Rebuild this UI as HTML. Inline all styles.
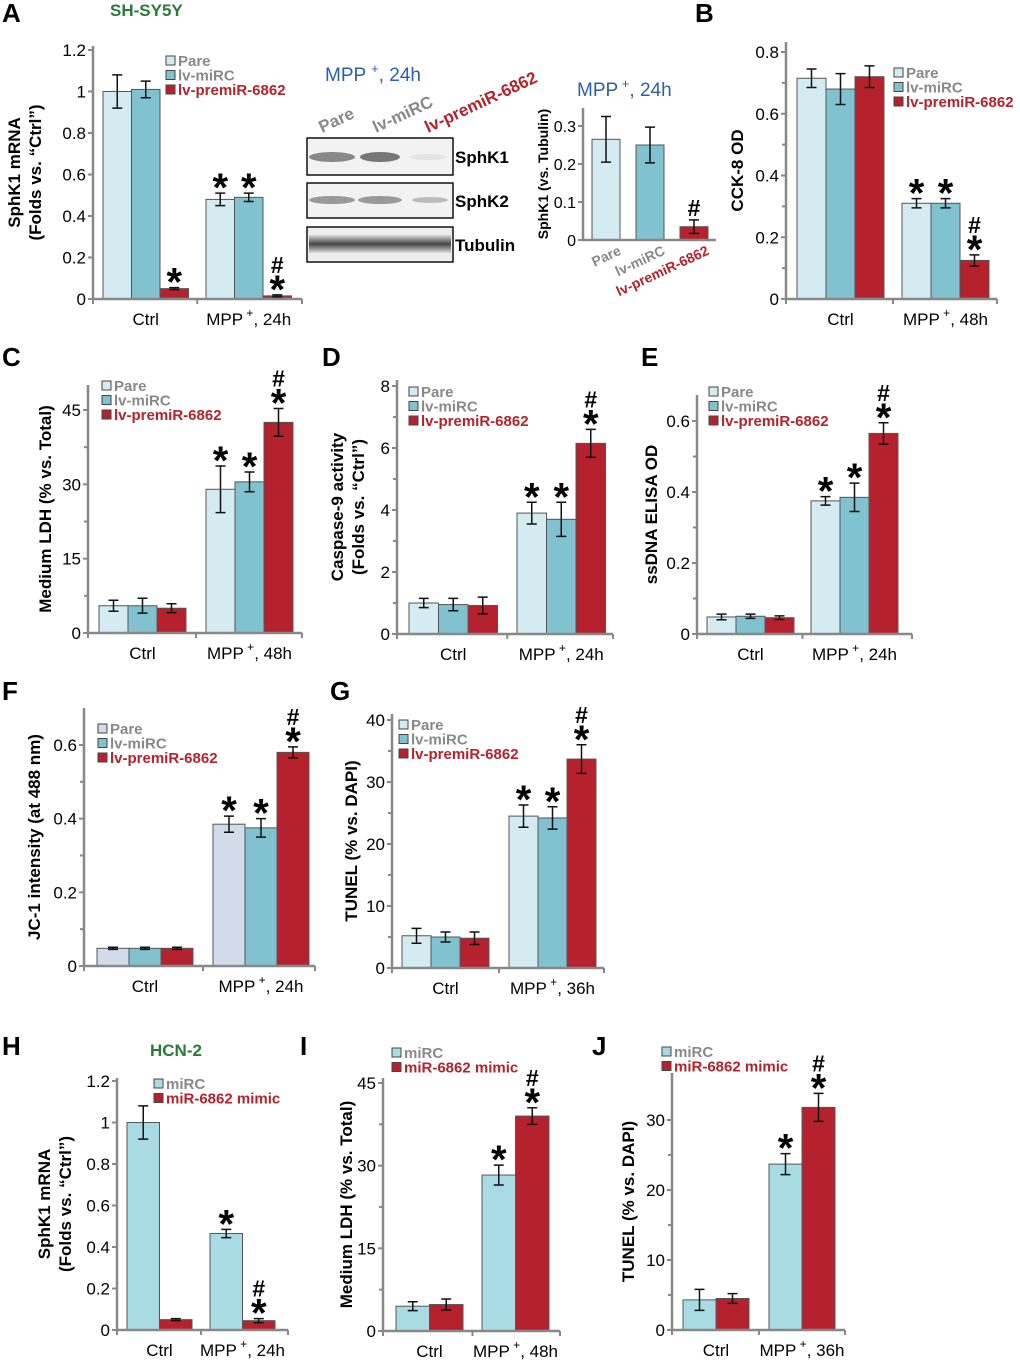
<!DOCTYPE html>
<html><head><meta charset="utf-8">
<style>
html,body{margin:0;padding:0;background:#fff;}
svg{display:block;font-family:"Liberation Sans",Arial,sans-serif;}
</style></head>
<body>
<svg id="fig" width="1020" height="1361" viewBox="0 0 1020 1361" xmlns="http://www.w3.org/2000/svg">
<defs>
<linearGradient id="band" x1="0" y1="0" x2="0" y2="1">
<stop offset="0" stop-color="#ddd"/><stop offset="0.5" stop-color="#444"/><stop offset="1" stop-color="#ddd"/>
</linearGradient>
</defs>
<g font-weight="bold" font-size="26" fill="#000">
<text x="2" y="22">A</text><text x="695" y="22">B</text>
<text x="2" y="366">C</text><text x="322" y="366">D</text><text x="641" y="366">E</text>
<text x="2" y="700">F</text><text x="330" y="700">G</text>
<text x="2" y="1055">H</text><text x="300" y="1055">I</text><text x="592" y="1055">J</text>
</g>
<text x="110" y="16" font-size="17" font-weight="bold" fill="#2a7a3a">SH-SY5Y</text>
<text x="150" y="1056" font-size="17" font-weight="bold" fill="#2a7a3a">HCN-2</text>

<g>
<text x="325" y="81" font-size="19" fill="#2a5fb0">MPP <tspan font-size="13" dy="-8">+</tspan><tspan dy="8">, 24h</tspan></text>
<text transform="translate(322,133) rotate(-25)" font-size="17" font-weight="bold" fill="#888">Pare</text>
<text transform="translate(376,133) rotate(-25)" font-size="17" font-weight="bold" fill="#888">lv-miRC</text>
<text transform="translate(428,133) rotate(-25)" font-size="17" font-weight="bold" fill="#b5222e">lv-premiR-6862</text>
<rect x="307" y="138" width="146" height="37" fill="#f2f2f2" stroke="#111" stroke-width="1.5"/>
<ellipse cx="332" cy="157" rx="23" ry="5" fill="#888"/><ellipse cx="380" cy="157" rx="20" ry="5" fill="#777"/><ellipse cx="428" cy="157" rx="18" ry="3" fill="#e2e2e2"/>
<rect x="307" y="183" width="146" height="35" fill="#f2f2f2" stroke="#111" stroke-width="1.5"/>
<ellipse cx="332" cy="200" rx="23" ry="4" fill="#999"/><ellipse cx="380" cy="200" rx="22" ry="4" fill="#999"/><ellipse cx="430" cy="200" rx="18" ry="3" fill="#bbb"/>
<rect x="307" y="227" width="146" height="35" fill="#eee" stroke="#111" stroke-width="1.5"/>
<rect x="309" y="235" width="142" height="18" fill="url(#band)"/>
<text x="455" y="163" font-size="17" font-weight="bold">SphK1</text>
<text x="455" y="207" font-size="17" font-weight="bold">SphK2</text>
<text x="455" y="251" font-size="17" font-weight="bold">Tubulin</text>
</g>
<g id="charts"></g>
</svg>
<script>
const catsA = ["Ctrl", "MPP+, 24h"];
const seriesA = ["Pare", "lv-miRC", "lv-premiR-6862"];
const valsA = [[1.0, 1.01, 0.05], [0.48, 0.49, 0.015]];
const errA = [[0.08, 0.04, 0.005], [0.03, 0.02, 0.005]];
const sigA = [["", "", "*"], ["*", "*", "#*"]];
const ticksA = [0, 0.2, 0.4, 0.6, 0.8, 1, 1.2];

const catsInset = ["Pare", "lv-miRC", "lv-premiR-6862"];
const valsInset = [[0.265, 0.25, 0.035]];
const errInset = [[0.06, 0.047, 0.018]];
const sigInset = [["", "", "#"]];
const ticksInset = [0, 0.1, 0.2, 0.3];

const catsB = ["Ctrl", "MPP+, 48h"];
const valsB = [[0.715, 0.68, 0.72], [0.31, 0.31, 0.125]];
const errB = [[0.03, 0.05, 0.035], [0.015, 0.015, 0.018]];
const sigB = [["", "", ""], ["*", "*", "#*"]];
const ticksB = [0, 0.2, 0.4, 0.6, 0.8];

const catsC = ["Ctrl", "MPP+, 48h"];
const valsC = [[5.5, 5.5, 5.0], [29, 30.5, 42.5]];
const errC = [[1.1, 1.5, 0.9], [4.7, 2.0, 2.8]];
const sigC = [["", "", ""], ["*", "*", "#*"]];
const ticksC = [0, 15, 30, 45];

const catsD = ["Ctrl", "MPP+, 24h"];
const valsD = [[1.0, 0.95, 0.92], [3.9, 3.7, 6.15]];
const errD = [[0.15, 0.2, 0.27], [0.35, 0.55, 0.45]];
const sigD = [["", "", ""], ["*", "*", "#*"]];
const ticksD = [0, 2, 4, 6, 8];

const catsE = ["Ctrl", "MPP+, 24h"];
const valsE = [[0.048, 0.05, 0.046], [0.375, 0.385, 0.565]];
const errE = [[0.008, 0.006, 0.005], [0.012, 0.04, 0.03]];
const sigE = [["", "", ""], ["*", "*", "#*"]];
const ticksE = [0, 0.2, 0.4, 0.6];

const catsF = ["Ctrl", "MPP+, 24h"];
const valsF = [[0.048, 0.048, 0.048], [0.385, 0.375, 0.58]];
const errF = [[0.003, 0.003, 0.003], [0.022, 0.025, 0.015]];
const sigF = [["", "", ""], ["*", "*", "#*"]];
const ticksF = [0, 0.2, 0.4, 0.6];

const catsG = ["Ctrl", "MPP+, 36h"];
const valsG = [[5.2, 5.0, 4.8], [24.5, 24.2, 33.7]];
const errG = [[1.2, 0.8, 1.0], [1.8, 1.8, 2.3]];
const sigG = [["", "", ""], ["*", "*", "#*"]];
const ticksG = [0, 10, 20, 30, 40];

const seriesH = ["miRC", "miR-6862 mimic"];
const catsH = ["Ctrl", "MPP+, 24h"];
const valsH = [[1.0, 0.05], [0.465, 0.045]];
const errH = [[0.08, 0.005], [0.02, 0.01]];
const sigH = [["", ""], ["*", "#*"]];
const ticksH = [0, 0.2, 0.4, 0.6, 0.8, 1, 1.2];

const catsI = ["Ctrl", "MPP+, 48h"];
const valsI = [[4.5, 4.8], [28.3, 39.0]];
const errI = [[0.8, 1.0], [1.8, 1.5]];
const sigI = [["", ""], ["*", "#*"]];
const ticksI = [0, 15, 30, 45];

const catsJ = ["Ctrl", "MPP+, 36h"];
const valsJ = [[4.3, 4.5], [23.7, 31.8]];
const errJ = [[1.5, 0.7], [1.5, 2.0]];
const sigJ = [["", ""], ["*", "#*"]];
const ticksJ = [0, 10, 20, 30];

const NS = "http://www.w3.org/2000/svg";
const root = document.getElementById('charts');
function mk(tag, attrs, parent) {
  const e = document.createElementNS(NS, tag);
  for (const k in attrs) e.setAttribute(k, attrs[k]);
  (parent || root).appendChild(e);
  return e;
}
const C3 = ["#d3ebf1", "#80c2cf", "#b5222e"];
const C2 = ["#a9dbe5", "#b5222e"];

function panel(p) {
  const g = mk('g', {});
  
  
  const max = p.ticks[p.ticks.length - 1];
  const yS = v => p.y0 - v / max * (p.y0 - p.yMax);
  const pitch = p.pitch || p.bw;
  p.vals.forEach((grp, gi) => {
    grp.forEach((v, si) => {
      const x = p.gx[gi] + si * pitch;
      const r = mk('rect', { x: x, y: yS(v), width: p.bw, height: p.y0 - yS(v), fill: p.colors[si], stroke: '#555', 'stroke-width': 1 }, g);
      
      
      const cx = x + p.bw / 2, e = p.err[gi][si];
      const top = yS(v + e);
      const eb = mk('path', { d: `M${cx},${top}V${yS(v - e)}M${cx - 5},${top}h10M${cx - 5},${yS(v - e)}h10`, stroke: '#111', 'stroke-width': 1.5, fill: 'none' }, g);
      
      
      const s = p.sig[gi][si];
      let hashBase = top - 4;
      if (s.includes('*')) {
        const t = mk('text', { x: cx, y: top + 8, 'text-anchor': 'middle', 'font-size': 40, 'font-weight': 'bold' }, g);
        t.textContent = '*';
        
        
        hashBase = top - 22;
      }
      if (s.includes('#')) {
        const t = mk('text', { x: cx, y: hashBase, 'text-anchor': 'middle', 'font-size': 23, 'font-weight': 'bold' }, g);
        t.textContent = '#';
        
        
      }
    });
  });
  const ax = mk('path', { d: `M${p.ax},${p.yTop}V${p.y0}H${p.xEnd}`, stroke: '#888', 'stroke-width': 2.5, fill: 'none' }, g);
  
  
  p.ticks.forEach((t, i) => {
    const y = yS(t);
    mk('path', { d: `M${p.ax - 5},${y}H${p.ax}`, stroke: '#888', 'stroke-width': 2 }, g);
    if (p.minor && i > 0) { const ym = yS((t + p.ticks[i - 1]) / 2); mk('path', { d: `M${p.ax - 4},${ym}H${p.ax}`, stroke: '#888', 'stroke-width': 2 }, g); }
    const tl = mk('text', { x: p.ax - 7, y: y + 6, 'text-anchor': 'end', 'font-size': p.tfs || 17 }, g);
    tl.textContent = String(t);
    
    
  });
  if (!p.rotLabels) {
    const nb = p.vals[0].length;
    const mid = (p.gx[0] + nb * pitch + p.gx[1]) / 2;
    [p.ax, mid, p.xEnd].forEach(x => mk('path', { d: `M${x},${p.y0}v5`, stroke: '#888', 'stroke-width': 2 }, g));
    p.cats.forEach((c, gi) => {
      const cx = p.gx[gi] + nb * pitch / 2;
      const t = mk('text', { x: cx, y: p.y0 + 26, 'text-anchor': 'middle', 'font-size': 17 }, g);
      
      
      if (c.startsWith('MPP+')) {
        t.textContent = 'MPP';
        const s1 = mk('tspan', { 'font-size': 12, dy: -8 }, t); s1.textContent = ' +';
        const s2 = mk('tspan', { dy: 8 }, t); s2.textContent = c.slice(4);
      } else t.textContent = c;
    });
  } else {
    const cols = ['#888', '#888', '#b5222e'];
    p.cats.forEach((c, i) => {
      const cx = p.gx[0] + i * pitch + p.bw / 2;
      const t = mk('text', { transform: `translate(${cx + 16},${p.y0 + 14}) rotate(-25)`, 'text-anchor': 'end', 'font-size': 14, 'font-weight': 'bold', fill: cols[i] }, g);
      t.textContent = c;
      
      
    });
  }
  const yt = mk('text', { transform: `translate(${p.ytx},${(p.y0 + p.yTop) / 2}) rotate(-90)`, 'text-anchor': 'middle', 'font-size': p.yfs || 17, 'font-weight': 'bold' }, g);
  
  
  p.ytitle.forEach((line, i) => { const ts = mk('tspan', { x: 0, dy: i === 0 ? 0 : 21 }, yt); ts.textContent = line; });
  if (p.legend) {
    const lg = mk('g', {}, g);
    
    
    p.legend.forEach((name, i) => {
      const y = p.ly + i * 14.5;
      mk('rect', { x: p.lx, y: y - 9, width: 9, height: 9, fill: p.colors[i], stroke: '#444', 'stroke-width': 1 }, lg);
      const t = mk('text', { x: p.lx + 12, y: y + 1, 'font-size': 15, 'font-weight': 'bold', fill: i === p.legend.length - 1 ? '#b5222e' : '#888' }, lg);
      t.textContent = name;
      
      
    });
  }
}

panel({ name: 'panel-a-sphk1-mrna', cats: catsA, vals: valsA, err: errA, sig: sigA, ticks: ticksA, colors: C3,
  ax: 93, y0: 299, yMax: 50, yTop: 46, xEnd: 302, gx: [103, 206], bw: 28.5, minor: false,
  ytitle: ['SphK1 mRNA', '(Folds vs. \u201cCtrl\u201d)'], ytx: 20, legend: seriesA, lx: 166, ly: 65 });

panel({ name: 'panel-a-inset-sphk1-tubulin', cats: catsInset, vals: valsInset, err: errInset, sig: sigInset, ticks: ticksInset, colors: C3,
  ax: 583, y0: 240, yMax: 126, yTop: 108, xEnd: 716, gx: [592], bw: 28, pitch: 44, rotLabels: true, tfs: 16,
  ytitle: ['SphK1 (vs. Tubulin)'], ytx: 548, yfs: 14 });
(function(){ const t = mk('text', { x: 577, y: 96, 'font-size': 19, fill: '#2a5fb0' });  
 t.textContent = 'MPP'; const a = mk('tspan', {'font-size':13, dy:-8}, t); a.textContent=' +'; const b = mk('tspan',{dy:8},t); b.textContent=', 24h'; })();

panel({ name: 'panel-b-cck8', cats: catsB, vals: valsB, err: errB, sig: sigB, ticks: ticksB, colors: C3,
  ax: 786, y0: 299, yMax: 52, yTop: 42, xEnd: 997, gx: [797, 902], bw: 29, minor: true,
  ytitle: ['CCK-8 OD'], ytx: 743, legend: seriesA, lx: 894, ly: 77 });

panel({ name: 'panel-c-ldh', cats: catsC, vals: valsC, err: errC, sig: sigC, ticks: ticksC, colors: C3,
  ax: 88, y0: 633, yMax: 410, yTop: 385, xEnd: 302, gx: [99, 206], bw: 29, minor: true,
  ytitle: ['Medium LDH (% vs. Total)'], ytx: 51, legend: seriesA, lx: 102, ly: 390 });

panel({ name: 'panel-d-caspase9', cats: catsD, vals: valsD, err: errD, sig: sigD, ticks: ticksD, colors: C3,
  ax: 397, y0: 634, yMax: 386, yTop: 380, xEnd: 613, gx: [409, 517], bw: 29.5, minor: true,
  ytitle: ['Caspase-9 activity', '(Folds vs. \u201cCtrl\u201d)'], ytx: 343, legend: seriesA, lx: 409, ly: 396 });

panel({ name: 'panel-e-ssdna', cats: catsE, vals: valsE, err: errE, sig: sigE, ticks: ticksE, colors: C3,
  ax: 697, y0: 634, yMax: 421, yTop: 395, xEnd: 912, gx: [707, 811], bw: 29, minor: true,
  ytitle: ['ssDNA ELISA OD'], ytx: 657, legend: seriesA, lx: 709, ly: 396 });

panel({ name: 'panel-f-jc1', cats: catsF, vals: valsF, err: errF, sig: sigF, ticks: ticksF, colors: ["#d0dcea", "#80c2cf", "#b5222e"],
  ax: 84, y0: 966, yMax: 745, yTop: 708, xEnd: 315, gx: [97, 213], bw: 32, minor: true,
  ytitle: ['JC-1 intensity (at 488 nm)'], ytx: 40, legend: seriesA, lx: 98, ly: 733 });

panel({ name: 'panel-g-tunel', cats: catsG, vals: valsG, err: errG, sig: sigG, ticks: ticksG, colors: C3,
  ax: 392, y0: 968, yMax: 720, yTop: 714, xEnd: 604, gx: [402, 509], bw: 29, minor: true,
  ytitle: ['TUNEL (% vs. DAPI)'], ytx: 357, legend: seriesA, lx: 399, ly: 729 });

panel({ name: 'panel-h-sphk1-mrna-hcn2', cats: catsH, vals: valsH, err: errH, sig: sigH, ticks: ticksH, colors: C2,
  ax: 117, y0: 1330, yMax: 1081, yTop: 1078, xEnd: 288, gx: [127, 210], bw: 32.5, minor: false,
  ytitle: ['SphK1 mRNA', '(Folds vs. \u201cCtrl\u201d)'], ytx: 50, legend: seriesH, lx: 154, ly: 1088 });

panel({ name: 'panel-i-ldh-hcn2', cats: catsI, vals: valsI, err: errI, sig: sigI, ticks: ticksI, colors: C2,
  ax: 383, y0: 1331, yMax: 1083, yTop: 1078, xEnd: 560, gx: [396, 482], bw: 33.5, minor: true,
  ytitle: ['Medium LDH (% vs. Total)'], ytx: 352, legend: seriesH, lx: 392, ly: 1057 });

panel({ name: 'panel-j-tunel-hcn2', cats: catsJ, vals: valsJ, err: errJ, sig: sigJ, ticks: ticksJ, colors: C2,
  ax: 672, y0: 1330, yMax: 1120, yTop: 1073, xEnd: 845, gx: [683, 769], bw: 33, minor: true,
  ytitle: ['TUNEL (% vs. DAPI)'], ytx: 634, legend: seriesH, lx: 662, ly: 1056 });
</script>
</body></html>
